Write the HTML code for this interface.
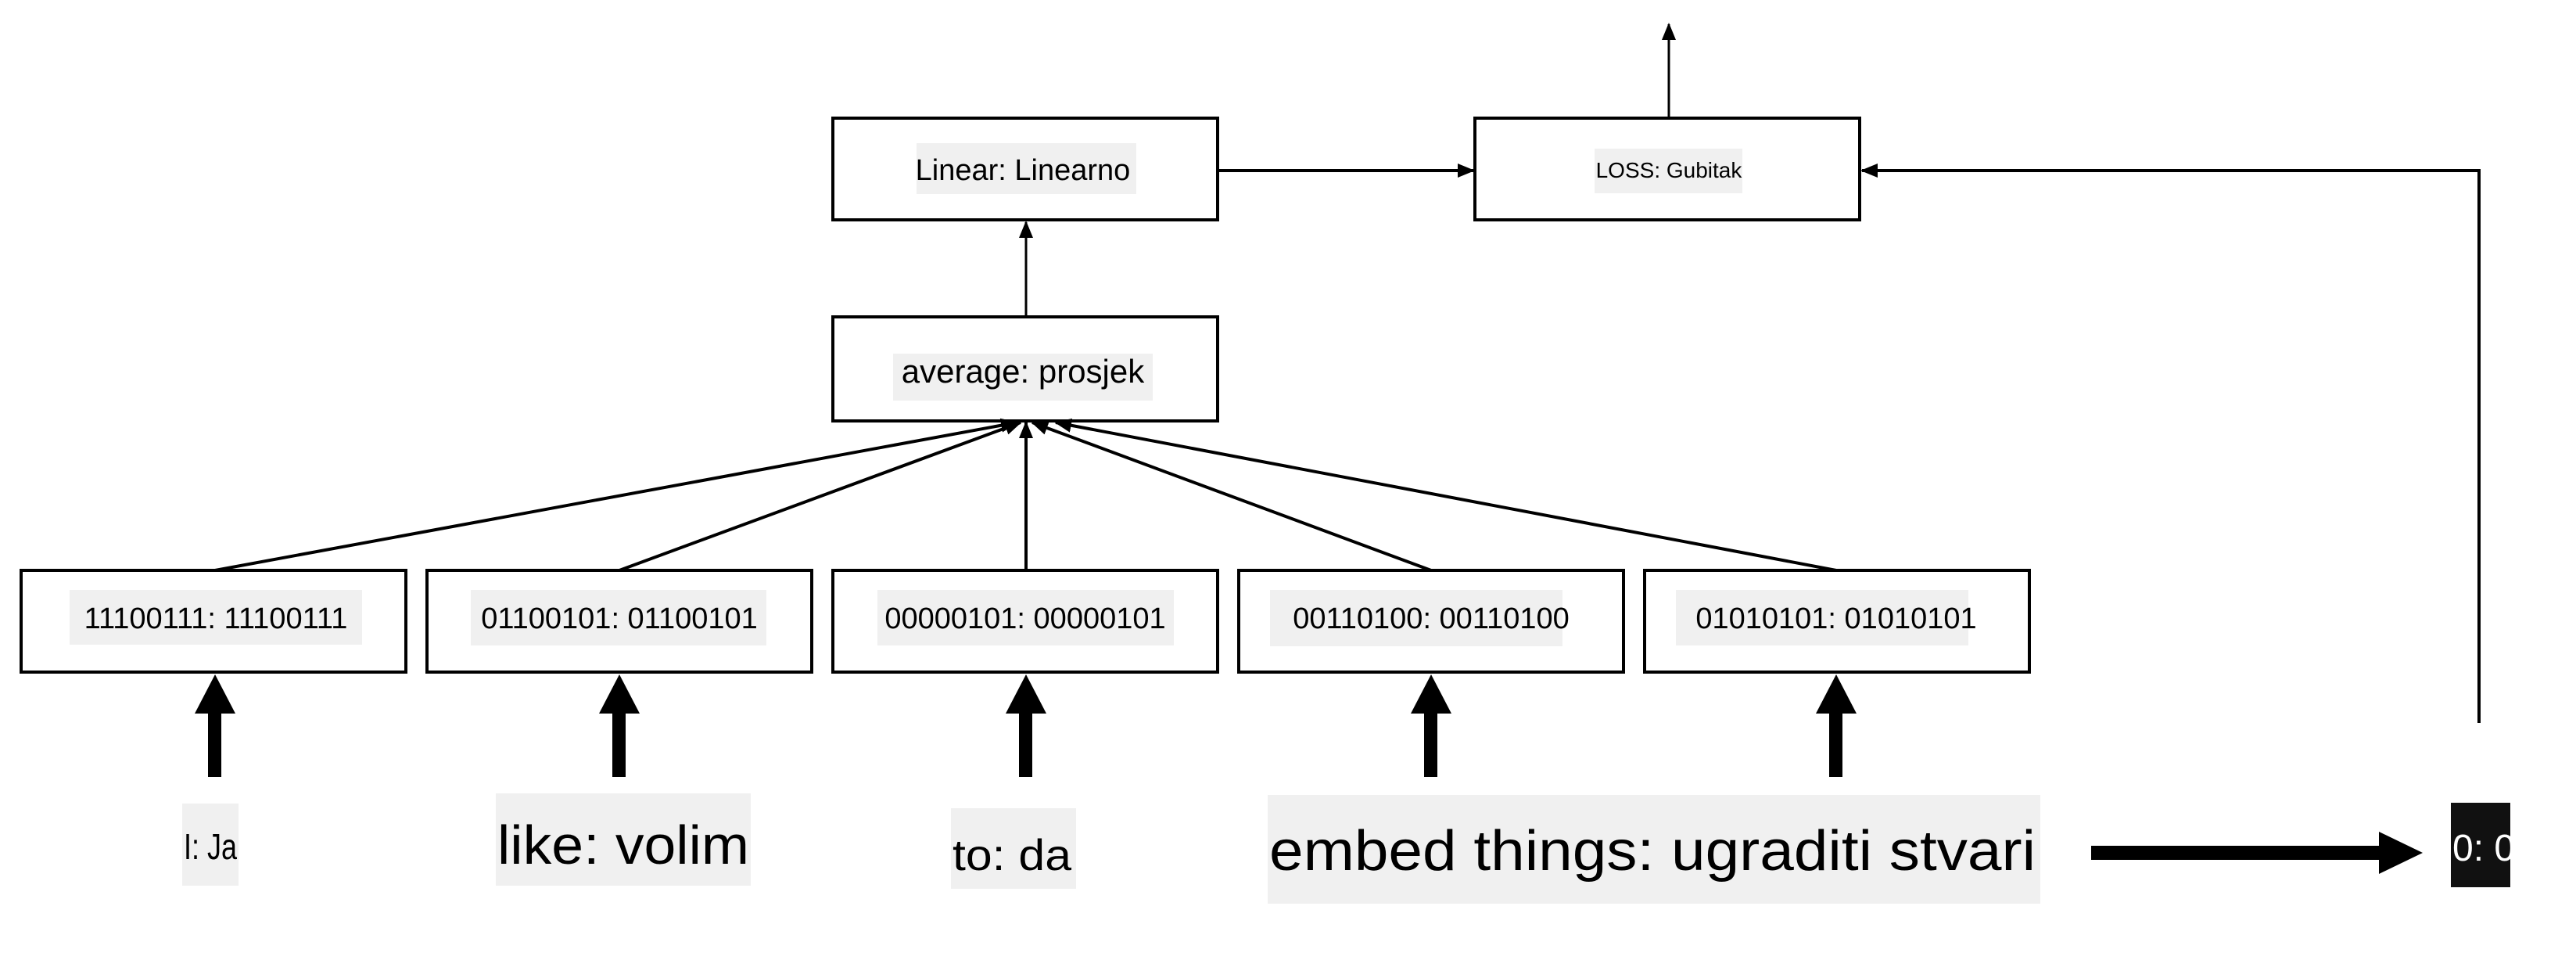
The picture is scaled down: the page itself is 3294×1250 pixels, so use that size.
<!DOCTYPE html>
<html><head><meta charset="utf-8"><style>
html,body{margin:0;padding:0;background:#fff;}
svg{display:block;}
text{font-family:"Liberation Sans",sans-serif;}
</style></head><body>
<svg width="3294" height="1250" viewBox="0 0 3294 1250" xmlns="http://www.w3.org/2000/svg">
<defs>
<marker id="ah2" markerWidth="22" markerHeight="22" refX="20" refY="11" orient="auto" markerUnits="userSpaceOnUse" viewBox="0 0 22 22">
<path d="M0,2 L22,11 L0,20 z" fill="#000"/>
</marker>
</defs>
<g fill="none" stroke="#000" stroke-width="4">
<rect x="27" y="729" width="492" height="130"/>
<rect x="546" y="729" width="492" height="130"/>
<rect x="1065" y="729" width="492" height="130"/>
<rect x="1584" y="729" width="492" height="130"/>
<rect x="2103" y="729" width="492" height="130"/>
<rect x="1065" y="405" width="492" height="133"/>
<rect x="1065" y="151" width="492" height="130"/>
<rect x="1886" y="151" width="492" height="130"/>
</g>
<g fill="#f0f0f0">
<rect x="89" y="754" width="374" height="70"/>
<rect x="602" y="754" width="378" height="71"/>
<rect x="1122" y="754" width="379" height="71"/>
<rect x="1624" y="754" width="374" height="72"/>
<rect x="2143" y="754" width="374" height="71"/>
<rect x="1142" y="452" width="332" height="60"/>
<rect x="1172" y="183" width="281" height="65"/>
<rect x="2039" y="190" width="189" height="57"/>
<rect x="233" y="1027" width="72" height="105"/>
<rect x="634" y="1014" width="326" height="118"/>
<rect x="1216" y="1033" width="160" height="103"/>
<rect x="1621" y="1016" width="988" height="139"/>
</g>
<rect x="3134" y="1026" width="76" height="108" fill="#111"/>
<g font-size="38" text-anchor="middle" fill="#000">
<text x="276" y="803">11100111: 11100111</text>
<text x="792" y="803">01100101: 01100101</text>
<text x="1311" y="803">00000101: 00000101</text>
<text x="1830" y="803">00110100: 00110100</text>
<text x="2348" y="803">01010101: 01010101</text>
<text x="1308" y="230">Linear: Linearno</text>
<text x="1308" y="489" font-size="42">average: prosjek</text>
<text x="2134" y="227" font-size="28">LOSS: Gubitak</text>
</g>
<g fill="#000">
<text x="235" y="1098" font-size="46" textLength="68" lengthAdjust="spacingAndGlyphs">I: Ja</text>
<text x="636" y="1104" font-size="70" textLength="322" lengthAdjust="spacingAndGlyphs">like: volim</text>
<text x="1218" y="1112" font-size="56" textLength="152" lengthAdjust="spacingAndGlyphs">to: da</text>
<text x="1623" y="1112" font-size="72" textLength="980" lengthAdjust="spacingAndGlyphs">embed things: ugraditi stvari</text>
<text x="3136" y="1100" font-size="48" fill="#fff">0: 0</text>
</g>
<g stroke="#000" stroke-width="4" fill="none">
<line x1="275" y1="729" x2="1300" y2="540" marker-end="url(#ah2)"/>
<line x1="792" y1="729" x2="1305" y2="540" marker-end="url(#ah2)"/>
<line x1="1312" y1="729" x2="1312" y2="540" marker-end="url(#ah2)"/>
<line x1="1830" y1="729" x2="1320" y2="540" marker-end="url(#ah2)"/>
<line x1="2348" y1="729" x2="1350" y2="540" marker-end="url(#ah2)"/>
<line x1="1312" y1="405" x2="1312" y2="284" stroke-width="3" marker-end="url(#ah2)"/>
<line x1="1557" y1="218" x2="1884" y2="218" marker-end="url(#ah2)"/>
<line x1="2134" y1="151" x2="2134" y2="31" stroke-width="3" marker-end="url(#ah2)"/>
<polyline points="3170,924 3170,218 2381,218" marker-end="url(#ah2)"/>
</g>
<g fill="#000">
<rect x="266" y="912" width="17" height="81"/>
<path d="M249,912 L275,862 L301,912 z"/>
<rect x="783" y="912" width="17" height="81"/>
<path d="M766,912 L792,862 L818,912 z"/>
<rect x="1303" y="912" width="17" height="81"/>
<path d="M1286,912 L1312,862 L1338,912 z"/>
<rect x="1821" y="912" width="17" height="81"/>
<path d="M1804,912 L1830,862 L1856,912 z"/>
<rect x="2339" y="912" width="17" height="81"/>
<path d="M2322,912 L2348,862 L2374,912 z"/>
<rect x="2674" y="1081" width="372" height="18"/>
<path d="M3042,1063 L3098,1090 L3042,1117 z"/>
</g>
</svg>
</body></html>
